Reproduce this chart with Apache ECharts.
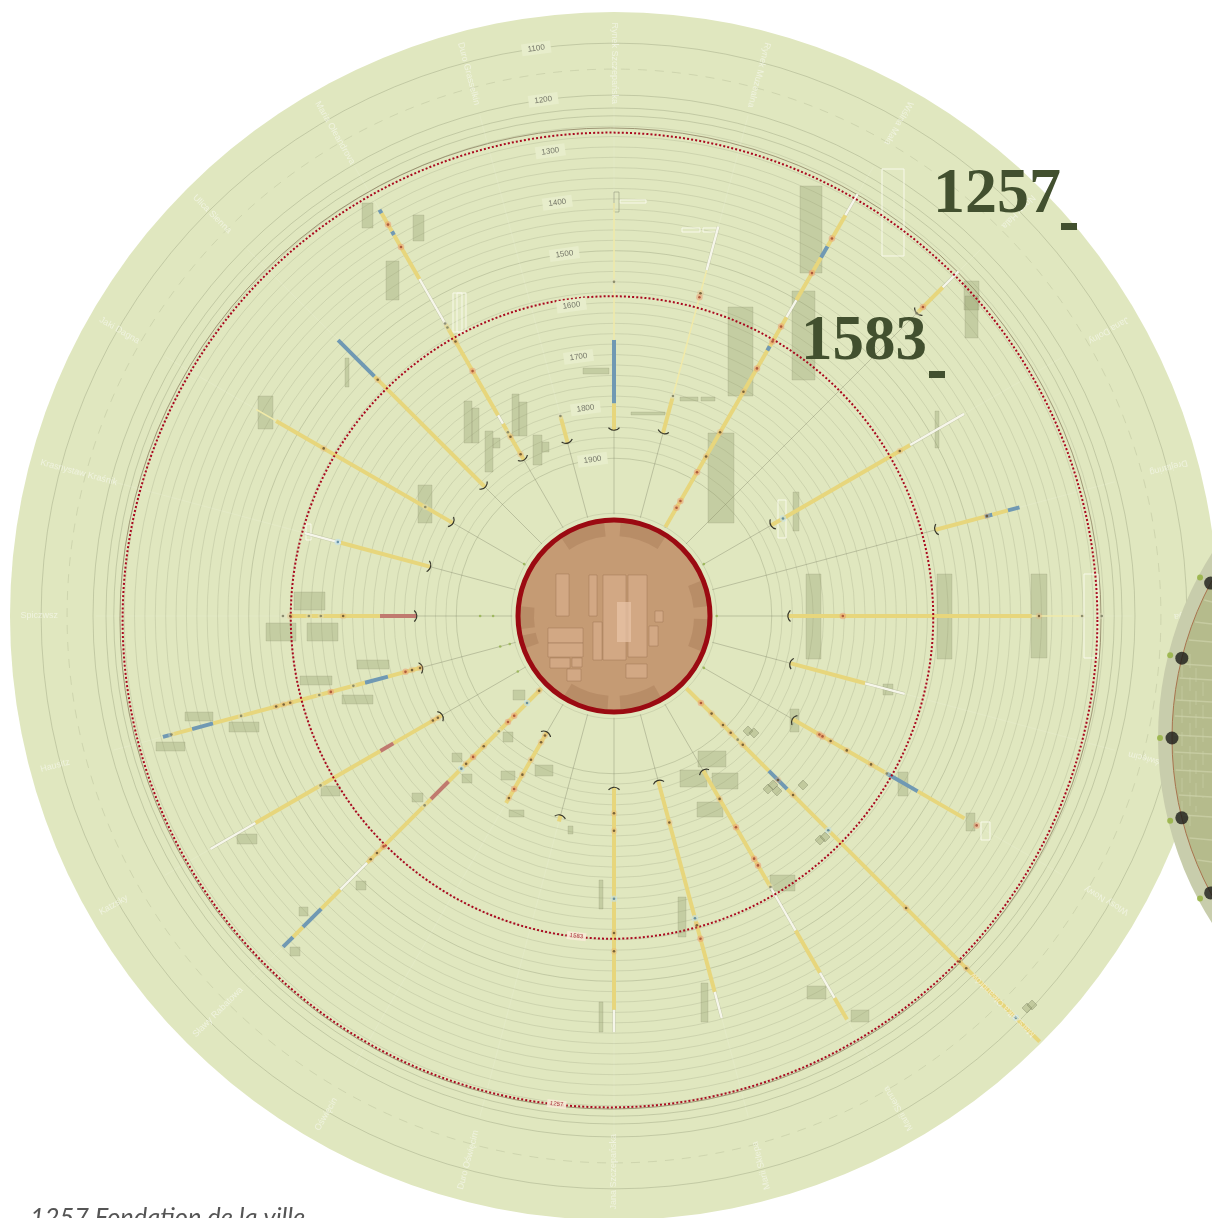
<!DOCTYPE html>
<html><head><meta charset="utf-8"><title>Rynek</title>
<style>html,body{margin:0;padding:0;background:#fff;overflow:hidden}#c{width:1212px;height:1218px}</style>
<script src="https://cdn.jsdelivr.net/npm/echarts@6/dist/echarts.min.js"></script>
</head><body><div id="c"></div><script>
// ---------- data ----------
const yearTicks = [1100,1200,1300,1400,1500,1600,1700,1800,1900];
const fineRings = [1260,1280,1300,1320,1340,1360,1380,1400,1420,1440,1460,1480,1520,1540,1560,1580,1600,1620,1640,1660,1680,1700,1720,1740,1760,1780,1800,1820,1840,1860,1880,2006];
const strongRings = [1100,1200,1225,1240,1500,1900];
const dashedRings = [1150];
const brownRings = [1250];
const foundingRings = [1257,1583];
const streets = ['Rynek Szczepańska','Rynek Muzealna','Wiślna Mała','Nowy Hala','Jana Dolny','Drejtaring','Rodinga','Most Oświęcim','Wlosy Nowy','Marszałka Oleandrów','Marii Sienna','Marii Sklepa','Jana Szczepańska','Duro Oświęcim','Oświęcin','Sławy Rabatowa','Katzsky','Hausitz','Spiczwsz','Krasnystaw Kraśnik','Jaki Dagna','Ulica Sienna','Maria Oleandrova','Duro Grasselkin'];
const streetAngles = [0,15,30,45,60,75,90,105,120,135,150,165,180,195,210,225,240,255,270,285,300,315,330,345];
// [angle, fromYear, toYear, kind]  y yellow, b blue, r red, w white, p pale
const segments = [
[0,1846,1794,'y'],[0,1794,1672,'b'],[0,1672,1408,'p'],
[15,1840,1768,'y'],[15,1768,1514,'p'],[15,1514,1427,'w'],
[30,2006,1539,'y'],[30,1539,1501,'w'],[30,1501,1406,'y'],[30,1406,1381,'b'],[30,1381,1312,'y'],[30,1312,1265,'w'],[30,1613,1604,'b'],
[45,1379,1308,'y'],[45,1308,1265,'w'],
[60,1855,1545,'y'],[60,1545,1425,'w'],
[75,1564,1464,'y'],[75,1464,1449,'b'],[75,1449,1418,'y'],[75,1418,1395,'b'],
[90,1869,1399,'y'],[90,1399,1298,'p'],
[105,1853,1703,'y'],[105,1703,1624,'w'],
[120,1807,1597,'y'],[120,1597,1528,'b'],[120,1528,1424,'y'],
[135,2007,1782,'y'],[135,1782,1732,'b'],[135,1732,1044,'y'],
[150,1861,1601,'y'],[150,1601,1504,'w'],[150,1504,1410,'y'],[150,1410,1354,'w'],[150,1354,1306,'y'],
[165,1876,1454,'y'],[165,1454,1402,'w'],
[180,1874,1445,'y'],[180,1445,1402,'w'],
[195,1807,1794,'y'],
[210,1946,1788,'y'],
[225,2007,1753,'y'],[225,1753,1705,'r'],[225,1705,1531,'y'],[225,1531,1458,'w'],[225,1458,1406,'y'],[225,1406,1356,'b'],[225,1356,1329,'y'],[225,1329,1302,'b'],
[240,1822,1713,'y'],[240,1713,1684,'r'],[240,1684,1406,'y'],[240,1406,1306,'w'],
[255,1822,1753,'y'],[255,1753,1707,'b'],[255,1707,1404,'y'],[255,1404,1362,'b'],[255,1362,1321,'y'],[255,1321,1304,'b'],
[270,1824,1753,'r'],[270,1753,1580,'y'],
[285,1838,1659,'y'],[285,1659,1587,'w'],
[300,1846,1452,'y'],[300,1452,1408,'p'],
[315,1853,1551,'y'],[315,1551,1452,'b'],
[330,1857,1776,'y'],[330,1776,1757,'w'],[330,1757,1555,'y'],[330,1555,1454,'w'],[330,1454,1356,'y'],[330,1356,1348,'b'],[330,1348,1308,'y'],[330,1308,1300,'b'],
[345,1859,1805,'y']
];
// [angle, year, kind] d dark, r red, b blue, g grey
const events = [
[0,1560,'g'],[15,1560,'d'],[15,1568,'r'],[15,1765,'g'],
[30,1963,'r'],[30,1948,'r'],[30,1884,'r'],[30,1849,'d'],[30,1795,'d'],[30,1705,'d'],[30,1653,'r'],[30,1593,'r'],[30,1560,'r'],[30,1441,'r'],[30,1364,'r'],
[45,1379,'g'],[45,1362,'r'],[60,1568,'d'],[60,1828,'b'],[75,1460,'d'],
[90,1763,'r'],[90,1385,'d'],[90,1302,'g'],[90,1264,'g'],
[120,1747,'r'],[120,1740,'r'],[120,1722,'d'],[120,1686,'d'],[120,1632,'d'],[120,1597,'g'],[120,1397,'r'],
[135,1967,'r'],[135,1938,'d'],[135,1907,'d'],[135,1886,'d'],[135,1867,'g'],[135,1853,'d'],[135,1757,'d'],[135,1716,'d'],[135,1620,'b'],[135,1408,'d'],[135,1262,'d'],[135,1244,'d'],[135,1109,'b'],
[150,1797,'d'],[150,1734,'r'],[150,1664,'r'],[150,1649,'r'],[150,1601,'g'],
[165,1792,'d'],[165,1601,'b'],[165,1587,'d'],[165,1560,'r'],
[180,1824,'d'],[180,1790,'d'],[180,1659,'b'],[180,1593,'d'],[180,1558,'d'],
[210,1938,'d'],[210,1923,'d'],[210,1884,'d'],[210,1851,'d'],[210,1819,'r'],[210,1799,'d'],
[225,2000,'d'],[225,1967,'b'],[225,1932,'r'],[225,1915,'r'],[225,1890,'g'],[225,1849,'d'],[225,1820,'r'],[225,1801,'d'],[225,1788,'b'],[225,1688,'g'],[225,1576,'r'],[225,1558,'d'],[225,1541,'d'],
[240,1801,'d'],[240,1812,'d'],[240,1551,'g'],
[255,1788,'r'],[255,1801,'d'],[255,1817,'d'],[255,1684,'g'],[255,1639,'r'],[255,1616,'g'],[255,1558,'d'],[255,1545,'d'],[255,1530,'d'],[255,1460,'g'],[255,1321,'g'],
[270,1682,'d'],[270,1639,'g'],[270,1616,'g'],[270,1580,'d'],[270,1566,'g'],
[285,1653,'b'],[300,1784,'g'],[300,1558,'d'],[315,1560,'d'],
[330,1844,'d'],[330,1805,'d'],[330,1795,'g'],[330,1659,'r'],[330,1593,'d'],[330,1562,'g'],[330,1553,'g'],[330,1383,'r'],[330,1333,'r'],
[345,1805,'g'],
[90,2006,'v'],[270,1946,'v'],[270,1971,'v'],[255,1977,'v'],[255,1996,'v'],[240,1990,'v'],[60,2004,'v'],[120,2004,'v'],[300,2004,'v']
];
// building footprints on the site plan: [east, south, width, depth]
const footprints = [
[186,-430,22,87],[178,-325,23,89],[114,-309,25,89],[94,-183,26,90],[350,-335,15,29],[351,-320,13,42],[321,-205,4,37],[179,-124,6,39],[66,-219,18,4],[87,-219,14,4],[17,-204,34,3],[-31,-248,26,6],
[-252,-413,11,25],[-201,-401,11,26],[-228,-355,13,39],[-356,-220,15,33],[-269,-258,4,29],[-150,-215,8,42],[-142,-208,7,35],[-102,-222,7,42],[-95,-214,8,34],[-129,-185,8,41],[-121,-178,7,10],[-81,-181,9,30],[-72,-174,7,10],[-196,-131,14,38],
[192,-42,15,85],[323,-42,15,85],[417,-42,16,84],[269,68,10,11],
[-320,-24,31,18],[-348,7,30,18],[-307,7,31,18],[-257,44,32,9],[-314,60,32,9],[-272,79,31,9],[-429,96,28,9],[-385,106,30,10],[-458,126,29,9],[-293,170,19,10],[-377,218,20,10],
[-101,74,12,10],[-111,116,10,10],[-162,137,10,9],[-152,158,10,9],[-202,177,11,9],[-113,155,14,9],[-79,149,18,11],[-105,194,15,7],[-46,210,5,8],[-15,264,4,29],[-15,386,4,30],[-258,265,10,9],[-315,291,9,9],[-324,331,10,9],
[176,93,9,23],[84,135,28,16],[66,154,27,17],[98,157,26,16],[83,186,26,15],[156,259,25,16],[284,156,10,24],[352,197,9,18],[64,281,8,40],[87,367,7,39],[193,370,19,13],[237,394,18,12]
];
const tiltedFootprints = [[134,115],[140,117],[154,173],[163,175],[159,169],[189,169],[206,224],[211,221],[413,392],[418,389]];
const lostFootprints = [[268,-447,22,87],[470,-42,14,84],[164,-116,8,38],[367,206,9,18],[-161,-323,13,39],[-157,-323,5,39],[6,-416,26,3],[68,-388,18,4],[89,-388,14,4],[-308,-92,5,16]];
const bracketFootprints = [[0,-424,5,20]];
const hallPlan = [[-58,-42,13,42],[-25,-41,8,41],[-11,-41,23,85],[14,-41,19,82],[-66,12,35,15],[-66,27,35,14],[-64,42,20,10],[-42,42,10,9],[-47,53,14,12],[12,48,21,14],[35,10,9,20],[41,-5,8,11],[-21,6,9,38]];
const hallCore = [[3,-14,14,40]];
const arcades = [[-34,-6],[4,33],[150,176],[184,212],[262,276],[250,258],[92,112],[68,84]];
const gateAngles = [242,256,270,284,298];

// ---------- scales ----------
const INNER_YEAR = 2204, OUTER_YEAR = 1040;
const kinds = ['y','b','r','w','p'];
const segmentStyle = [
  {c:'#e7d67c',w:4},{c:'#7099b3',w:4},{c:'#c07a6f',w:4},{c:'#f6f6ea',w:2.4},{c:'#f1eaa8',w:1.5}];
const eventColor = {d:'#5f4a28',r:'#a0442e',b:'#4e7d97',g:'#77785c',v:'#93b24c'};
const eventHalo = {d:'rgba(235,170,110,.35)',r:'rgba(236,150,110,.6)',b:'rgba(190,225,240,.7)',g:'rgba(225,225,195,.45)',v:'rgba(0,0,0,0)'};
const ringSeries = (years, style, shift) => ({
  type:'custom',coordinateSystem:'polar',silent:true,animation:false,
  data:years.map((y,i)=>[y,0,i]),
  renderItem:(p,api)=>{const c=p.coordSys,q=api.coord([api.value(0),0]),s=shift?shift[api.value(2)]:[0,0,0];
    return {type:'circle',shape:{cx:c.cx+s[0],cy:c.cy+s[1],r:Math.hypot(q[0]-c.cx,q[1]-c.cy)+s[2]},style:Object.assign({fill:null},style)};}
});
const firstYear = {};const lastYear = {};
segments.forEach(s=>{firstYear[s[0]]=Math.max(firstYear[s[0]]||0,s[1]);lastYear[s[0]]=Math.min(lastYear[s[0]]||9999,s[2]);});
const spokes = streetAngles.map(a=>[a,firstYear[a],lastYear[a]]);
const capAngles = spokes.filter(s=>s[1]<1900||s[0]===210);
const plan = (data, render) => ({type:'custom',coordinateSystem:'cartesian2d',xAxisIndex:0,yAxisIndex:0,silent:true,animation:false,clip:false,data,renderItem:render});
const rectOf = (api,style)=>{const a=api.coord([api.value(0),api.value(1)]),s=api.size([api.value(2),api.value(3)]);
  return {type:'rect',shape:{x:a[0],y:a[1],width:s[0],height:s[1]},style};};

const series = [
  ringSeries([OUTER_YEAR],{fill:'#e0e7bf',stroke:null}),
  ringSeries(fineRings,{stroke:'rgba(118,124,92,.26)',lineWidth:.7}),
  ringSeries(strongRings,{stroke:'rgba(110,116,86,.33)',lineWidth:.8}),
  ringSeries(dashedRings,{stroke:'rgba(120,126,96,.26)',lineWidth:.7,lineDash:[9,8]}),
  ringSeries(brownRings,{stroke:'rgba(130,115,85,.7)',lineWidth:1},[[-3.5,2.5,-4.5]]),
  // spokes
  {type:'custom',coordinateSystem:'polar',silent:true,animation:false,data:spokes.map(s=>[s[1],s[0],s[2]]),
   renderItem:(p,api)=>{const a=api.value(1),s=api.coord([2008,a]),e=api.coord([api.value(0),a]),e2=api.coord([api.value(2),a]),o=api.coord([1205,a]);
     return {type:'group',children:[
       {type:'line',shape:{x1:s[0],y1:s[1],x2:e[0],y2:e[1]},style:{stroke:'rgba(110,115,90,.42)',lineWidth:.8}},
       {type:'line',shape:{x1:e2[0],y1:e2[1],x2:o[0],y2:o[1]},style:{stroke:'rgba(255,255,255,.14)',lineWidth:.8}}]};}},
  // buildings
  plan(footprints,(p,api)=>rectOf(api,{fill:'rgba(145,155,105,.34)',stroke:'rgba(130,135,100,.4)',lineWidth:.5})),
  plan(lostFootprints,(p,api)=>rectOf(api,{fill:'rgba(240,243,215,.1)',stroke:'#f8f9ea',lineWidth:1})),
  plan(bracketFootprints,(p,api)=>rectOf(api,{fill:null,stroke:'rgba(130,135,110,.7)',lineWidth:.7})),
  plan(tiltedFootprints,(p,api)=>{const c=api.coord([api.value(0),api.value(1)]);
    return {type:'rect',x:c[0],y:c[1],rotation:Math.PI/4,shape:{x:-3.5,y:-3.5,width:7,height:7},style:{fill:'rgba(145,155,105,.38)',stroke:'rgba(120,125,95,.6)',lineWidth:.6}};}),
  // coloured periods
  {type:'custom',coordinateSystem:'polar',silent:true,animation:false,clip:false,
   data:segments.map(s=>[s[1],s[0],s[2],kinds.indexOf(s[3])]),
   renderItem:(p,api)=>{const a=api.value(1),k=segmentStyle[api.value(3)],s=api.coord([api.value(0),a]),e=api.coord([api.value(2),a]);
     const shape={x1:s[0],y1:s[1],x2:e[0],y2:e[1]};
     const main={type:'line',shape,style:{stroke:k.c,lineWidth:k.w}};
     return api.value(3)===3?{type:'group',children:[{type:'line',shape,style:{stroke:'rgba(125,128,105,.3)',lineWidth:3.2}},main]}:main;}},
  // event halos and marks
  {type:'scatter',coordinateSystem:'polar',silent:true,animation:false,symbolSize:6.5,data:events.map(e=>({value:[e[1],e[0]],itemStyle:{color:eventHalo[e[2]]}}))},
  {type:'scatter',coordinateSystem:'polar',silent:true,animation:false,symbolSize:2.6,data:events.map(e=>({value:[e[1],e[0]],itemStyle:{color:eventColor[e[2]]}}))},
  // end caps
  {type:'custom',coordinateSystem:'polar',silent:true,animation:false,clip:false,data:capAngles.map(s=>[s[1],s[0]]),
   renderItem:(p,api)=>{const c=p.coordSys,q=api.coord([api.value(0),api.value(1)]);
     const d=Math.hypot(q[0]-c.cx,q[1]-c.cy),ux=(q[0]-c.cx)/d,uy=(q[1]-c.cy)/d,phi=Math.atan2(-uy,-ux);
     return {type:'arc',shape:{cx:q[0]+ux*7,cy:q[1]+uy*7,r:7,startAngle:phi-.9,endAngle:phi+.9,clockwise:true},style:{fill:null,stroke:'#36362a',lineWidth:1.2}};}},
  // founding rings
  ringSeries(foundingRings,{stroke:'#a9091f',lineWidth:2,lineDash:[2,2.1]},[[-4,4,-4],[-2,1.5,-1]]),
  // central square
  ringSeries([2019],{fill:'#c59b74',stroke:null}),
  {type:'custom',coordinateSystem:'polar',silent:true,animation:false,data:arcades.map(a=>[2030,a[0],a[1]]),
   renderItem:(p,api)=>{const c=p.coordSys,f=d=>(d-90)*Math.PI/180;
     return {type:'sector',shape:{cx:c.cx,cy:c.cy,r0:80,r:96,startAngle:f(api.value(1)),endAngle:f(api.value(2)),clockwise:true},style:{fill:'rgba(150,105,72,.28)'}};}},
  plan(hallPlan,(p,api)=>rectOf(api,{fill:'rgba(218,176,144,.6)',stroke:'rgba(135,95,65,.4)',lineWidth:.8})),
  plan(hallCore,(p,api)=>rectOf(api,{fill:'rgba(232,196,168,.7)'})),
  ringSeries([2019],{stroke:'#9b0a12',lineWidth:5}),
  // year ticks
  {type:'scatter',coordinateSystem:'polar',silent:true,animation:false,symbolSize:1,itemStyle:{opacity:0},
   data:yearTicks.map(y=>[y,352.2]),
   label:{show:true,position:'inside',rotate:7.8,opacity:1,formatter:p=>String(p.value[0]),fontFamily:'Liberation Sans',fontSize:8,color:'#77796a',backgroundColor:'#e7edcb',padding:[2,6]}},
  // founding years on the rings
  {type:'scatter',coordinateSystem:'polar',silent:true,animation:false,symbolSize:1,itemStyle:{opacity:0},
   data:foundingRings.map(y=>[y,186.7]),
   label:{show:true,position:'inside',rotate:-6.7,opacity:1,formatter:p=>String(p.value[0]),fontFamily:'Liberation Sans',fontSize:6,color:'#a9323a',backgroundColor:'rgba(247,235,215,.85)',padding:[1,3]}},
  // street names
  {type:'scatter',coordinateSystem:'polar',silent:true,animation:false,symbolSize:1,itemStyle:{opacity:0},
   data:streets.map((n,i)=>({name:n,value:[1060,streetAngles[i]],label:{rotate:-(streetAngles[i]+90)}})),
   label:{show:true,opacity:1,position:'inside',align:'left',verticalAlign:'middle',formatter:'{b}',fontFamily:'Liberation Sans',fontSize:9,color:'rgba(255,255,255,.5)'}},
  // neighbouring disc gates
  {type:'scatter',coordinateSystem:'polar',polarIndex:1,silent:true,animation:false,z:60,symbolSize:6,data:gateAngles.map(a=>[342,a]),itemStyle:{color:'#93b23c'}},
  {type:'scatter',coordinateSystem:'polar',polarIndex:1,silent:true,animation:false,z:61,symbolSize:13,data:gateAngles.map(a=>[330,a]),itemStyle:{color:'#1b1b19'}}
];

// neighbouring disc drawing
const DX=1502, DY=738, DR=330;
const edge=y=>DX-Math.sqrt(DR*DR-(y-DY)*(y-DY));
const mapRows=[600,622,640,664,678,700,716,735,752,770,795,815,838,860];
const mapCols=[1182,1190,1196,1203];
const graphics=[
 {type:'circle',z:50,shape:{cx:DX,cy:DY,r:344},style:{fill:'#c8cdac'}},
 {type:'circle',z:50,shape:{cx:DX,cy:DY,r:DR},style:{fill:'#b5bb8c',stroke:'#a8744e',lineWidth:1}},
 ...mapRows.map(y=>({type:'line',z:51,shape:{x1:edge(y)+2,y1:y,x2:1212,y2:y+2},style:{stroke:'rgba(205,210,170,.7)',lineWidth:1.5}})),
 ...mapCols.map((x,i)=>({type:'line',z:51,shape:{x1:x,y1:640+i*14,x2:x,y2:840-i*14},style:{stroke:'rgba(205,210,170,.45)',lineWidth:1.2,lineDash:[14,9]}})),
 {type:'text',z:70,style:{text:'1257',x:933,y:195,font:'bold 64px "Liberation Serif"',fill:'#42502f',textAlign:'left',textVerticalAlign:'middle'}},
 {type:'rect',z:70,shape:{x:1061,y:223,width:16,height:7},style:{fill:'#42502f'}},
 {type:'text',z:70,style:{text:'1583',x:801,y:343,font:'bold 63px "Liberation Serif"',fill:'#42502f',textAlign:'left',textVerticalAlign:'middle'}},
 {type:'rect',z:70,shape:{x:929,y:371,width:16,height:7},style:{fill:'#42502f'}},
 {type:'text',z:70,style:{text:'1257 Fondation de la ville',x:30,y:1218,font:'italic 25.4px Lato',fill:'#555',textAlign:'left',textVerticalAlign:'middle'}}
];

const hidden={show:false};
echarts.init(document.getElementById('c'),null,{renderer:'canvas'}).setOption({
  animation:false,backgroundColor:'#fff',tooltip:{show:false},
  grid:{left:0,right:0,top:0,bottom:0},
  xAxis:{type:'value',min:-614,max:598,show:false},
  yAxis:{type:'value',inverse:true,min:-616,max:602,show:false},
  polar:[{center:[614,616],radius:[0,604]},{center:[DX,DY],radius:[0,344]}],
  radiusAxis:[{polarIndex:0,type:'value',inverse:true,min:OUTER_YEAR,max:INNER_YEAR,...hidden},{polarIndex:1,type:'value',min:0,max:344,...hidden}],
  angleAxis:[{polarIndex:0,type:'value',min:0,max:360,startAngle:90,...hidden},{polarIndex:1,type:'value',min:0,max:360,startAngle:90,...hidden}],
  graphic:{elements:graphics},
  series
});
</script></body></html>
